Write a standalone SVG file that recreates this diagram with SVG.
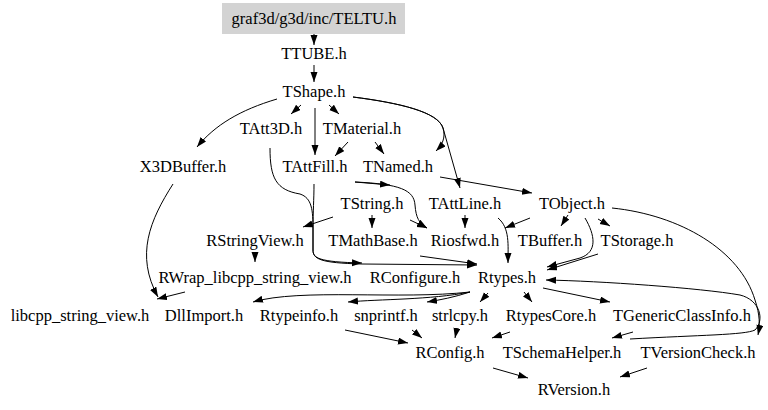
<svg xmlns="http://www.w3.org/2000/svg" width="768" height="410" viewBox="0 0 768 410">
<style>
text{font-family:"Liberation Serif","Times New Roman",serif;font-size:16.5px;text-anchor:middle;fill:#000}
.e{fill:none;stroke:#000;stroke-width:1}
.a{marker-end:url(#ah)}
</style>
<defs>
<marker id="ah" markerUnits="userSpaceOnUse" markerWidth="10" markerHeight="8" refX="10" refY="3.5" orient="auto">
<path d="M0,0 L10,3.5 L0,7 z" fill="#000"/>
</marker>
</defs>
<rect width="768" height="410" fill="#fff"/>
<g id="connectors">
<path class="e a" d="M314,34 L314,45"/>
<path class="e a" d="M314,65 L314,82"/>
<path class="e a" d="M277,99 C240,110 215,125 197,147"/>
<path class="e a" d="M301,105 L291,114"/>
<path class="e a" d="M315,108 L315,155"/>
<path class="e a" d="M329,105 L339,114"/>
<path class="e a" d="M353,97 C400,103 438,112 443,128 C446,138 442,145 436,151"/>
<path class="e a" d="M353,97 C400,103 438,112 443,128 L460,188"/>
<path class="e a" d="M348,142 L335,156"/>
<path class="e a" d="M375,142 L384,154"/>
<path class="e a" d="M270,148 C270,178 276,190 300,194 C312,198 313,210 313,230 L313,250 C313,258 318,262 362,263"/>
<path class="e a" d="M314,184 C314,200 313,210 313,230 L313,250 C313,259 320,263 362,264 L477,265"/>
<path class="e a" d="M440,177 L532,193"/>
<path class="e a" d="M355,182 L390,185"/>
<path class="e a" d="M355,182 C400,184 414,190 415,205 C416,218 419,223 427,228"/>
<path class="e a" d="M333,217 L303,227"/>
<path class="e a" d="M372,215 L372,228"/>
<path class="e a" d="M410,220 L427,228"/>
<path class="e a" d="M465,215 L465,228"/>
<path class="e a" d="M530,218 L505,228"/>
<path class="e a" d="M498,218 C510,228 508,245 508,263"/>
<path class="e a" d="M568,215 L561,226"/>
<path class="e a" d="M598,219 L610,226"/>
<path class="e a" d="M585,218 C595,235 598,252 580,258 L547,267"/>
<path class="e a" d="M598,254 L547,270"/>
<path class="e a" d="M612,208 C680,215 740,250 755,300 C760,315 760,325 758,335"/>
<path class="e a" d="M630,339 C700,335 745,335 755,330 C765,320 760,300 740,295 C700,288 600,281 546,280"/>
<path class="e a" d="M420,256 L477,264"/>
<path class="e a" d="M255,252 L255,262"/>
<path class="e a" d="M173,184 C150,220 135,255 158,297"/>
<path class="e a" d="M185,292 L157,299"/>
<path class="e a" d="M470,292 C400,300 300,288 253,302"/>
<path class="e a" d="M470,292 C430,300 380,299 348,302"/>
<path class="e a" d="M470,292 C455,297 440,300 427,302"/>
<path class="e a" d="M488,293 L480,302"/>
<path class="e a" d="M524,292 L532,302"/>
<path class="e a" d="M543,288 L610,302"/>
<path class="e a" d="M633,332 L612,338"/>
<path class="e a" d="M345,330 L408,343"/>
<path class="e a" d="M412,330 L422,338"/>
<path class="e a" d="M457,328 L455,338"/>
<path class="e a" d="M510,332 L492,338"/>
<path class="e a" d="M493,368 L528,378"/>
<path class="e a" d="M647,368 L620,377"/>
</g>
<g id="n_TELTU"><rect x="222" y="3" width="183" height="31" fill="#d3d3d3"/><text x="314" y="24">graf3d/g3d/inc/TELTU.h</text></g>
<g id="n_TTUBE"><text x="314" y="59">TTUBE.h</text></g>
<g id="n_TShape"><text x="314" y="97">TShape.h</text></g>
<g id="n_TAtt3D"><text x="271" y="134">TAtt3D.h</text></g>
<g id="n_TMaterial"><text x="362" y="134">TMaterial.h</text></g>
<g id="n_X3DBuffer"><text x="183" y="172">X3DBuffer.h</text></g>
<g id="n_TAttFill"><text x="315" y="172">TAttFill.h</text></g>
<g id="n_TNamed"><text x="398" y="172">TNamed.h</text></g>
<g id="n_TString"><text x="372" y="209">TString.h</text></g>
<g id="n_TAttLine"><text x="465" y="209">TAttLine.h</text></g>
<g id="n_TObject"><text x="572" y="209">TObject.h</text></g>
<g id="n_RStringView"><text x="255" y="246">RStringView.h</text></g>
<g id="n_TMathBase"><text x="373" y="246">TMathBase.h</text></g>
<g id="n_Riosfwd"><text x="465" y="246">Riosfwd.h</text></g>
<g id="n_TBuffer"><text x="550" y="246">TBuffer.h</text></g>
<g id="n_TStorage"><text x="637" y="246">TStorage.h</text></g>
<g id="n_RWrap"><text x="255" y="283">RWrap_libcpp_string_view.h</text></g>
<g id="n_RConfigure"><text x="415" y="283">RConfigure.h</text></g>
<g id="n_Rtypes"><text x="507" y="283">Rtypes.h</text></g>
<g id="n_libcpp"><text x="80" y="321">libcpp_string_view.h</text></g>
<g id="n_DllImport"><text x="204" y="321">DllImport.h</text></g>
<g id="n_Rtypeinfo"><text x="299" y="321">Rtypeinfo.h</text></g>
<g id="n_snprintf"><text x="386" y="321">snprintf.h</text></g>
<g id="n_strlcpy"><text x="460" y="321">strlcpy.h</text></g>
<g id="n_RtypesCore"><text x="551" y="321">RtypesCore.h</text></g>
<g id="n_TGenericClassInfo"><text x="682" y="321">TGenericClassInfo.h</text></g>
<g id="n_RConfig"><text x="450" y="358">RConfig.h</text></g>
<g id="n_TSchemaHelper"><text x="562" y="358">TSchemaHelper.h</text></g>
<g id="n_TVersionCheck"><text x="698" y="358">TVersionCheck.h</text></g>
<g id="n_RVersion"><text x="574" y="395">RVersion.h</text></g>
</svg>
